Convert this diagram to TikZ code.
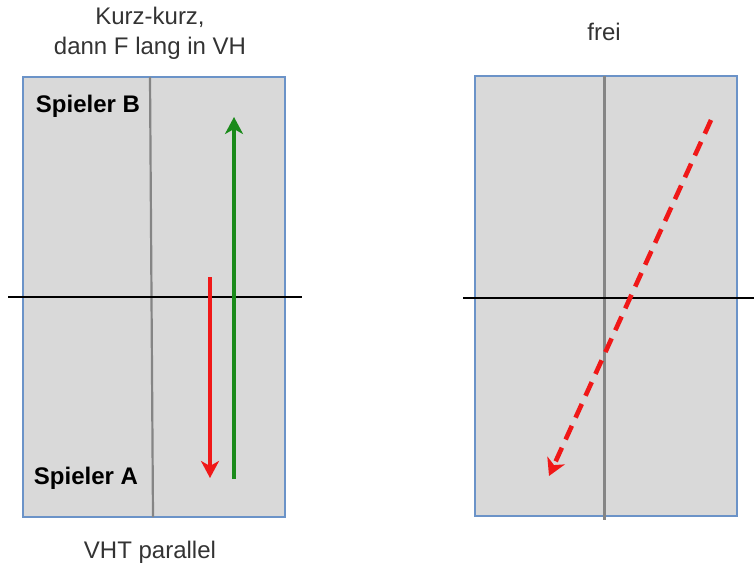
\documentclass[tikz,border=0pt]{standalone}
\usepackage{fontspec}
\setmainfont{Liberation Sans}
\usetikzlibrary{arrows.meta}
\definecolor{tablefill}{HTML}{D9D9D9}
\definecolor{tableedge}{HTML}{6B93C8}
\definecolor{midgray}{HTML}{858585}
\definecolor{arrred}{HTML}{F01818}
\definecolor{arrgreen}{HTML}{1A8A1A}
\begin{document}
\begin{tikzpicture}[x=1pt,y=-1pt,
  table/.style={fill=tablefill,draw=tableedge,line width=2.6pt},
  midline/.style={draw=midgray,line width=2.2pt},
  netline/.style={draw=black,line width=2.6pt},
  lbl/.style={font=\fontsize{24}{30}\selectfont,text=black!80,align=center,inner sep=0pt},
  player/.style={font=\fontsize{24}{30}\selectfont\bfseries,inner sep=0pt},
  ball/.style={line width=4.2pt,-{Stealth[length=17pt,width=18pt,inset=5pt]}},
  balldash/.style={line width=4.6pt,dash pattern=on 15pt off 9pt,-{Stealth[length=17pt,width=19pt,inset=5pt]}}
]
\useasboundingbox (0,0) rectangle (754,564);
% left table
\path[table] (23,77) rectangle (285,517);
\draw[midline] (150,77) -- (153,517);
\draw[netline] (8,297) -- (302,297);
% right table
\path[table] (475,76) rectangle (737,516);
\draw[midline] (604.5,76) -- (604.5,520);
\draw[netline] (463,298) -- (754,298);
% texts
\node[lbl] (t1) at (150,33) {Kurz-kurz,\\dann F lang in VH};
\node[lbl] (t2) at (150,552) {VHT parallel};
\node[lbl] (t3) at (604,32) {frei};
\node[player] (pb) at (88,106) {Spieler B};
\node[player] (pa) at (86,478) {Spieler A};
% arrows
\coordinate (rs) at (210,277);
\coordinate (re) at (210,478);
\coordinate (gs) at (234,479);
\coordinate (ge) at (234,117);
\coordinate (ds) at (711,120);
\coordinate (de) at (549,476);
\draw[ball,arrred] (rs) -- (re);
\draw[ball,arrgreen] (gs) -- (ge);
\draw[balldash,arrred] (ds) -- (de);
\end{tikzpicture}
\end{document}
